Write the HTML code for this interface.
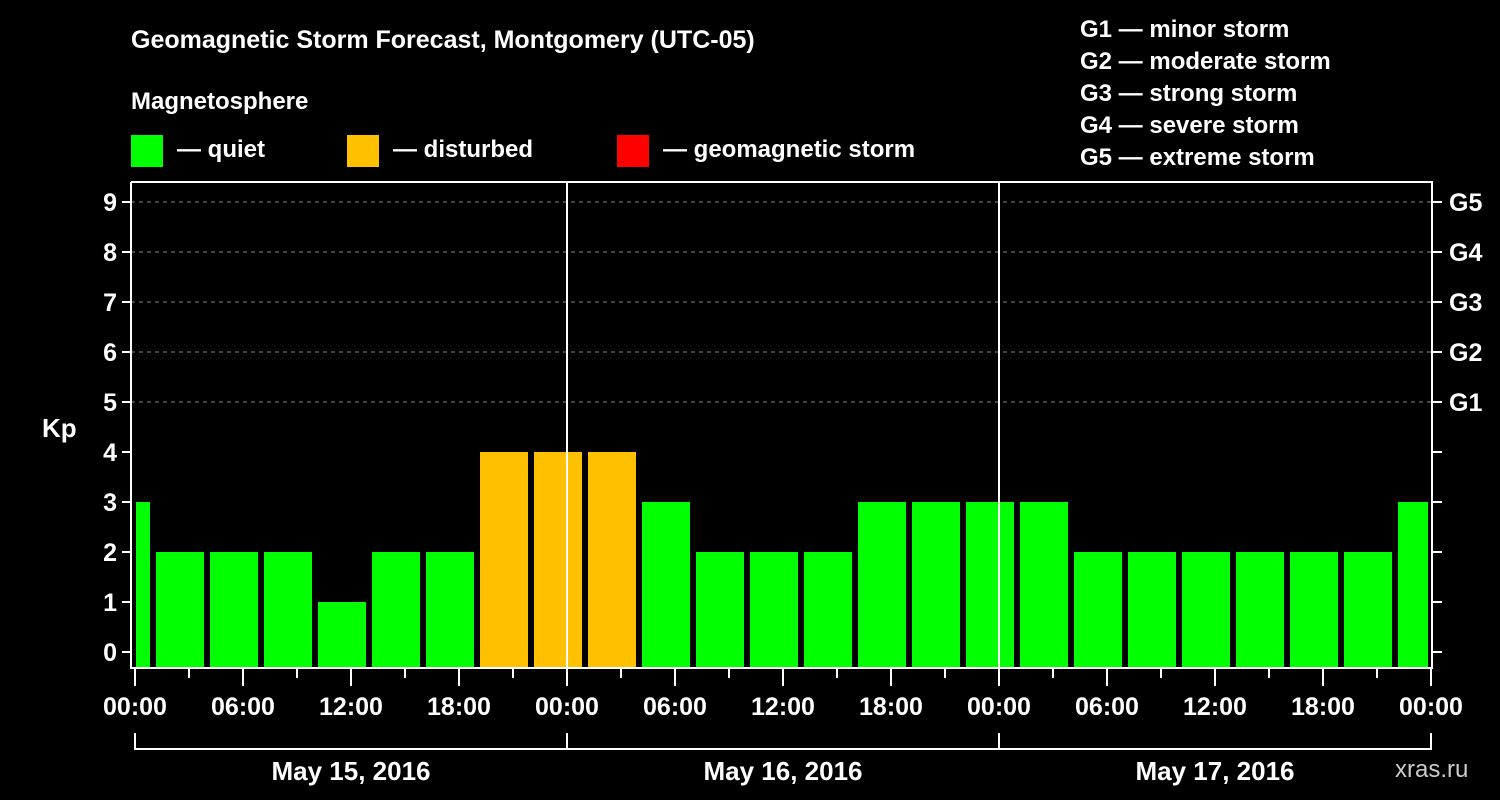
<!DOCTYPE html>
<html><head><meta charset="utf-8"><style>
html,body{margin:0;padding:0;background:#000;}
svg{display:block;font-family:"Liberation Sans",sans-serif;font-weight:bold;}
</style></head><body>
<svg id="chart" width="1500" height="800" viewBox="0 0 1500 800">
<rect width="1500" height="800" fill="#000"/>
<text x="131" y="48" fill="#fff" font-size="25">Geomagnetic Storm Forecast, Montgomery (UTC-05)</text>
<text x="131" y="109" fill="#fff" font-size="24">Magnetosphere</text>
<rect x="131" y="135" width="32" height="32" fill="#00ff00"/>
<text x="177" y="157" fill="#fff" font-size="24">— quiet</text>
<rect x="347" y="135" width="32" height="32" fill="#ffc000"/>
<text x="393" y="157" fill="#fff" font-size="24">— disturbed</text>
<rect x="617" y="135" width="32" height="32" fill="#ff0000"/>
<text x="663" y="157" fill="#fff" font-size="24">— geomagnetic storm</text>
<g fill="#fff" font-size="24">
<text x="1080" y="37">G1 — minor storm</text>
<text x="1080" y="69">G2 — moderate storm</text>
<text x="1080" y="101">G3 — strong storm</text>
<text x="1080" y="133">G4 — severe storm</text>
<text x="1080" y="165">G5 — extreme storm</text>
</g>
<text x="42" y="437" fill="#fff" font-size="26">Kp</text>
<text x="1395" y="777" fill="#ccc" font-size="24" font-weight="normal">xras.ru</text>
<g id="grid"></g>
<g id="bars"></g>
<g id="axes"></g>
</svg>
<script>
const kpValues = [3,2,2,2,1,2,2,4,4,4,3,2,2,2,3,3,3,3,2,2,2,2,2,2,3];
const blockStartHours = [-2,1,4,7,10,13,16,19,22,25,28,31,34,37,40,43,46,49,52,55,58,61,64,67,70];
const yTicks = [0,1,2,3,4,5,6,7,8,9];
const gLabels = ["G1","G2","G3","G4","G5"];
const gLevels = [5,6,7,8,9];
const xTickLabels = ["00:00","06:00","12:00","18:00","00:00","06:00","12:00","18:00","00:00","06:00","12:00","18:00","00:00"];
const dayLabels = ["May 15, 2016","May 16, 2016","May 17, 2016"];

const NS="http://www.w3.org/2000/svg";
const X0=135, PXH=18, Y0=652, PXU=50, TOP=182, BOT=668, LEFT=131, RIGHT=1432;
const xs=h=>X0+h*PXH, ys=v=>Y0-v*PXU;
function mk(tag,attrs,parent,txt){const e=document.createElementNS(NS,tag);for(const k in attrs)e.setAttribute(k,attrs[k]);if(txt!==undefined)e.textContent=txt;document.getElementById(parent).appendChild(e);return e;}
function color(v){return v>=5?"#ff0000":(v>=4?"#ffc000":"#00ff00");}

gLevels.forEach((v,i)=>{
  const l=mk("line",{x1:LEFT,x2:RIGHT,y1:ys(v),y2:ys(v),stroke:"#888","stroke-dasharray":"4,4","stroke-width":1},"grid");
  
  
});
kpValues.forEach((v,i)=>{
  const s=blockStartHours[i];
  let x1=Math.max(xs(s)+3,LEFT+5), x2=Math.min(xs(s+3)-3,RIGHT-4);
  const r=mk("rect",{x:x1,y:ys(v),width:x2-x1,height:BOT-1-ys(v),fill:color(v)},"bars");
  
  
});
// frame
const fr=mk("path",{d:`M${LEFT} ${TOP}V${BOT}H${RIGHT}V${TOP}H${LEFT}`,fill:"none",stroke:"#fff","stroke-width":2},"axes");


[24,48].forEach(h=>{
  const l=mk("line",{x1:xs(h),x2:xs(h),y1:TOP,y2:BOT,stroke:"#fff","stroke-width":2},"axes");
  
  
});
yTicks.forEach(v=>{
  const t=mk("line",{x1:LEFT-9,x2:LEFT,y1:ys(v),y2:ys(v),stroke:"#fff","stroke-width":2},"axes");
  
  
  const t2=mk("line",{x1:RIGHT,x2:RIGHT+10,y1:ys(v),y2:ys(v),stroke:"#fff","stroke-width":2},"axes");
  
  
  const tx=mk("text",{x:LEFT-14,y:ys(v)+9,fill:"#fff","font-size":25,"text-anchor":"end"},"axes",String(v));
  
  
});
gLevels.forEach((v,i)=>{
  const tx=mk("text",{x:1449,y:ys(v)+9,fill:"#fff","font-size":25},"axes",gLabels[i]);
  
  
});
for(let h=0;h<=72;h+=3){
  const major=h%6===0;
  const t=mk("line",{x1:xs(h),x2:xs(h),y1:BOT,y2:BOT+(major?18:10),stroke:"#fff","stroke-width":2},"axes");
  
  
}
xTickLabels.forEach((s,i)=>{
  const tx=mk("text",{x:xs(i*6),y:715,fill:"#fff","font-size":25,"text-anchor":"middle"},"axes",s);
  
  
});
const br=mk("path",{d:`M${xs(0)} 733V749H${xs(72)}V733M${xs(24)} 733V749M${xs(48)} 733V749`,fill:"none",stroke:"#fff","stroke-width":2},"axes");


dayLabels.forEach((s,i)=>{
  const tx=mk("text",{x:xs(i*24+12),y:780,fill:"#fff","font-size":26,"text-anchor":"middle"},"axes",s);
  
  
});
</script>
</body></html>
